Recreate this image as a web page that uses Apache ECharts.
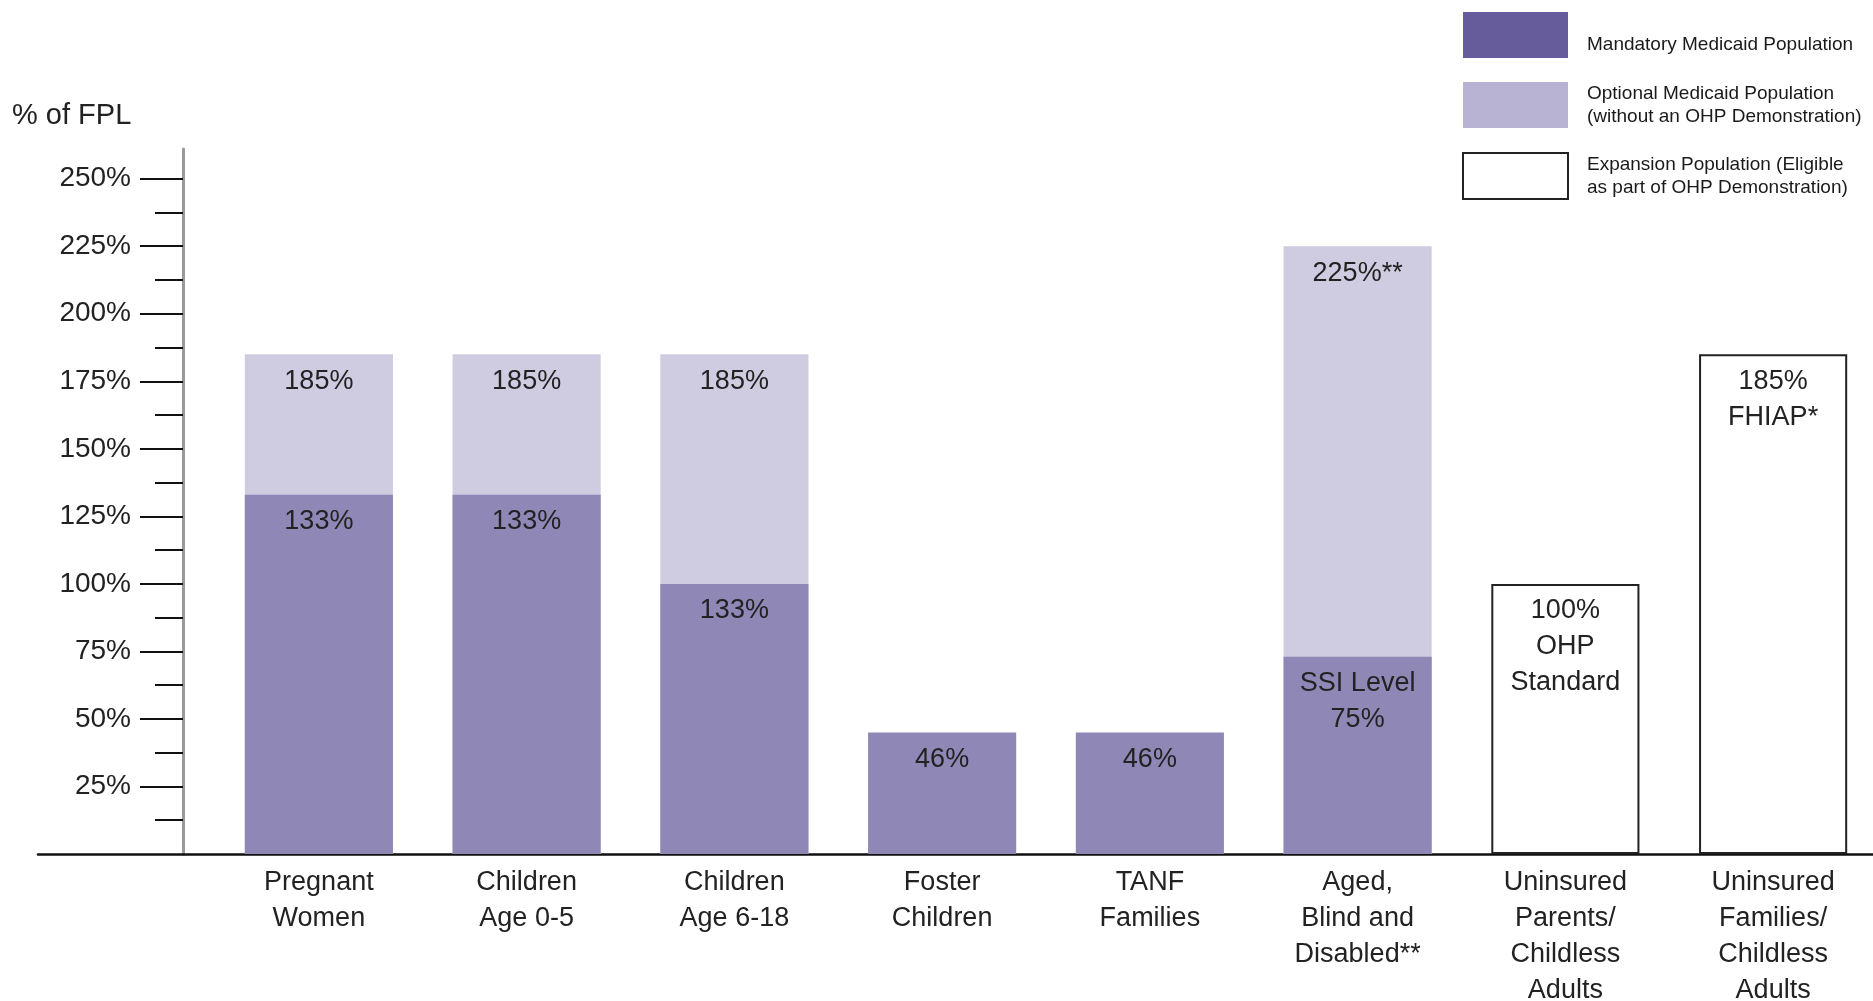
<!DOCTYPE html>
<html>
<head>
<meta charset="utf-8">
<script src="https://cdn.jsdelivr.net/npm/echarts@6/dist/echarts.min.js"></script>
<style>
html,body{margin:0;padding:0;background:#fff;}
#chart{width:1873px;height:1001px;}
</style>
</head>
<body>
<div id="chart"></div>
<script>
// ---- data ----
const categories = [
  'Pregnant\nWomen', 'Children\nAge 0-5', 'Children\nAge 6-18', 'Foster\nChildren',
  'TANF\nFamilies', 'Aged,\nBlind and\nDisabled**', 'Uninsured\nParents/\nChildless\nAdults',
  'Uninsured\nFamilies/\nChildless\nAdults'
];
const mandatoryValues = [133, 133, 100, 45, 45, 73, null, null];
const mandatoryLabels = ['133%', '133%', '133%', '46%', '46%', 'SSI Level\n75%', '', ''];
const optionalValues = [185, 185, 185, null, null, 225, null, null];
const optionalLabels = ['185%', '185%', '185%', '', '', '225%**', '', ''];
const expansionValues = [null, null, null, null, null, null, 100, 185];
const expansionLabels = ['', '', '', '', '', '', '100%\nOHP\nStandard', '185%\nFHIAP*'];
const majorTicks = [25, 50, 75, 100, 125, 150, 175, 200, 225, 250];
const minorTicks = [12.5, 37.5, 62.5, 87.5, 112.5, 137.5, 162.5, 187.5, 212.5, 237.5];
const seriesNames = ['Mandatory Medicaid Population', 'Optional Medicaid Population', 'Expansion Population'];
const legendTexts = {
  'Mandatory Medicaid Population': 'Mandatory Medicaid Population',
  'Optional Medicaid Population': 'Optional Medicaid Population\n(without an OHP Demonstration)',
  'Expansion Population': 'Expansion Population (Eligible\nas part of OHP Demonstration)'
};

const FONT = '"Liberation Sans", Arial, sans-serif';
const TXT = '#222';

const chart = echarts.init(document.getElementById('chart'), null, {renderer: 'canvas'});

function labelCfg(texts) {
  return {
    show: true,
    position: 'insideTop',
    distance: 9,
    fontFamily: FONT,
    fontSize: 27,
    lineHeight: 36,
    color: TXT,
    formatter: p => texts[p.dataIndex]
  };
}

const option = {
  backgroundColor: '#fff',
  animation: false,
  title: {
    text: '% of FPL',
    left: 12, top: 101, padding: 0,
    textStyle: {fontFamily: FONT, fontSize: 29, fontWeight: 'normal', color: TXT}
  },
  legend: {
    orient: 'vertical',
    left: 1462, top: 12, padding: 0,
    itemWidth: 105, itemHeight: 46, itemGap: 24,
    icon: 'rect',
    textStyle: {
      fontFamily: FONT, fontSize: 19, lineHeight: 23, color: '#1a1a1a', padding: [0, 0, 0, 14],
      rich: {
        low: {fontFamily: FONT, fontSize: 19, lineHeight: 23, color: '#1a1a1a', padding: [20, 0, 0, 0]}
      }
    },
    formatter: n => (n === seriesNames[0] ? '{low|' + legendTexts[n] + '}' : legendTexts[n]),
    data: [
      {name: seriesNames[0], itemStyle: {color: '#665c9c', borderWidth: 0}},
      {name: seriesNames[1], itemStyle: {color: '#b8b2d3', borderWidth: 0}},
      {name: seriesNames[2], itemStyle: {color: '#ffffff', borderColor: '#222', borderWidth: 2}}
    ]
  },
  grid: [
    {left: 215, right: -4, top: 149, bottom: 147, containLabel: false, outerBoundsMode: 'none'},
    {left: 38, right: 0, top: 149, bottom: 147, containLabel: false, outerBoundsMode: 'none'}
  ],
  xAxis: [
    {
      type: 'category', gridIndex: 0, data: categories,
      axisLine: {show: false}, axisTick: {show: false},
      axisLabel: {interval: 0, margin: 11, fontFamily: FONT, fontSize: 27, lineHeight: 36, color: TXT}
    },
    {
      type: 'value', gridIndex: 1, min: 0, max: 1,
      axisLine: {show: true, lineStyle: {color: '#111', width: 2.5}},
      axisTick: {show: false}, axisLabel: {show: false}, splitLine: {show: false}
    }
  ],
  yAxis: [
    {
      type: 'value', gridIndex: 0, position: 'left', offset: 32, min: 0, max: 261,
      axisLine: {show: true, lineStyle: {color: '#9a9a9a', width: 3}},
      axisTick: {show: true, customValues: majorTicks, length: 43, lineStyle: {color: '#111', width: 2}},
      axisLabel: {show: true, customValues: majorTicks, margin: 52, formatter: '{value}%',
        fontFamily: FONT, fontSize: 28, color: TXT},
      splitLine: {show: false}
    },
    {
      type: 'value', gridIndex: 0, position: 'left', offset: 32, min: 0, max: 261,
      axisLine: {show: false},
      axisTick: {show: true, customValues: minorTicks, length: 28, lineStyle: {color: '#111', width: 2}},
      axisLabel: {show: false},
      splitLine: {show: false}
    },
    {
      type: 'value', gridIndex: 1, show: false, min: 0, max: 1
    }
  ],
  series: [
    {
      name: seriesNames[1], type: 'bar', xAxisIndex: 0, yAxisIndex: 0,
      data: optionalValues, barWidth: '71.3%', barGap: '-100%',
      itemStyle: {color: '#cfcbe0'},
      label: labelCfg(optionalLabels), z: 2
    },
    {
      name: seriesNames[0], type: 'bar', xAxisIndex: 0, yAxisIndex: 0,
      data: mandatoryValues, barWidth: '71.3%', barGap: '-100%',
      itemStyle: {color: '#8f87b6'},
      label: labelCfg(mandatoryLabels), z: 3
    },
    {
      name: seriesNames[2], type: 'bar', xAxisIndex: 0, yAxisIndex: 0,
      data: expansionValues, barWidth: '71.3%', barGap: '-100%',
      itemStyle: {color: '#ffffff', borderColor: '#222', borderWidth: 2},
      label: labelCfg(expansionLabels), z: 3
    }
  ]
};
chart.setOption(option);
</script>
</body>
</html>
